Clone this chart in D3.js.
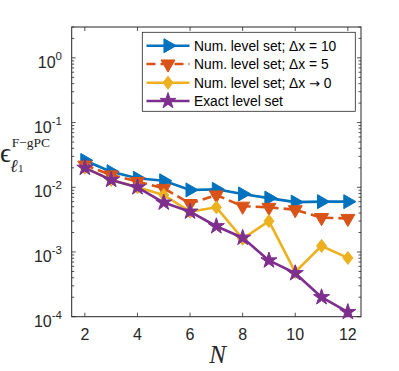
<!DOCTYPE html>
<html>
<head>
<meta charset="utf-8">
<script src="https://cdn.jsdelivr.net/npm/d3@7"></script>
<style>
  body { margin: 0; background: #fff; }
  svg { display: block; }
</style>
</head>
<body>
<div id="chart"></div>
<script>
// values
let N = [2, 3, 4, 5, 6, 7, 8, 9, 10, 11, 12];
let dx10 = [0.026, 0.0174, 0.0138, 0.0126, 0.0091, 0.0093, 0.0079, 0.0068, 0.0059, 0.006, 0.006];
let dx5 = [0.022, 0.0155, 0.0123, 0.0096, 0.0056, 0.0076, 0.0051, 0.0049, 0.0045, 0.0034, 0.0033];
let dx0 = [0.020, 0.013, 0.010, 0.0076, 0.0042, 0.0049, 0.0016, 0.0030, 0.00049, 0.00124, 0.00081];
let exact = [0.020, 0.013, 0.010, 0.0058, 0.0042, 0.0025, 0.00166, 0.00074, 0.00047, 0.0002, 0.000118];
let xTicks = [2, 4, 6, 8, 10, 12];
let yExp = [-4, -3, -2, -1, 0];
let labels = ["Num. level set; \u0394x = 10", "Num. level set; \u0394x = 5", "Num. level set; \u0394x \u2192 0", "Exact level set"];

let series = [
    { name: labels[0], values: dx10, color: "#0072BD", dash: null, marker: "right" },
    { name: labels[1], values: dx5, color: "#D95319", dash: "9,5", marker: "down" },
    { name: labels[2], values: dx0, color: "#EDB120", dash: null, marker: "diamond" },
    { name: labels[3], values: exact, color: "#7E2F8E", dash: null, marker: "star" }
];

let width = 399, height = 371;
let box = { left: 71.7, right: 361, top: 27, bottom: 316.7 };
let axisColor = "#262626";

let x = d3.scaleLinear().domain([1.5, 12.5]).range([box.left, box.right]);
let y = d3.scaleLog().domain([1e-4, 3]).range([box.bottom, box.top]);

let svg = d3.select("#chart").append("svg")
    .attr("width", width)
    .attr("height", height)
    .attr("viewBox", [0, 0, width, height]);

function markerPath(type) {
    switch (type) {
        case "right": return { d: d3.symbol(d3.symbolTriangle, 85)(), rot: 90 };
        case "down": return { d: d3.symbol(d3.symbolTriangle, 85)(), rot: 180 };
        case "diamond": return { d: "M0,-6.5L5,0L0,6.5L-5,0Z", rot: 0 };
        case "star": return { d: d3.symbol(d3.symbolStar, 80)(), rot: 0 };
    }
}

// axes box
svg.append("rect")
    .attr("x", box.left).attr("y", box.top)
    .attr("width", box.right - box.left).attr("height", box.bottom - box.top)
    .attr("fill", "#fff").attr("stroke", axisColor).attr("stroke-width", 1);

let tl = 4;
let ticks = svg.append("g").attr("stroke", axisColor).attr("stroke-width", 0.8);

// x ticks, inside on bottom and top
xTicks.forEach(t => {
    ticks.append("line").attr("x1", x(t)).attr("x2", x(t)).attr("y1", box.bottom).attr("y2", box.bottom - tl);
    ticks.append("line").attr("x1", x(t)).attr("x2", x(t)).attr("y1", box.top).attr("y2", box.top + tl);
});

// y ticks (major + minor), inside on left and right
let yTickVals = [];
for (let e = -4; e <= 0; e++) {
    for (let m = 1; m <= 9; m++) {
        let v = m * Math.pow(10, e);
        if (v <= 3) yTickVals.push({ v: v, major: m === 1 });
    }
}
yTickVals.forEach(t => {
    let len = t.major ? tl : 2.5;
    ticks.append("line").attr("x1", box.left).attr("x2", box.left + len).attr("y1", y(t.v)).attr("y2", y(t.v));
    ticks.append("line").attr("x1", box.right).attr("x2", box.right - len).attr("y1", y(t.v)).attr("y2", y(t.v));
});

// tick labels
let font = "'Liberation Sans', Arial, Helvetica, sans-serif";
svg.append("g")
    .attr("font-family", font).attr("font-size", 16).attr("fill", axisColor)
    .attr("text-anchor", "middle")
    .selectAll("text").data(xTicks).join("text")
    .attr("x", d => x(d)).attr("y", box.bottom + 23)
    .text(d => d);

let yl = svg.append("g")
    .attr("font-family", font).attr("fill", axisColor)
    .attr("text-anchor", "end")
    .selectAll("text").data(yExp).join("text")
    .attr("x", 62).attr("y", d => y(Math.pow(10, d)) + 10)
    .attr("font-size", 16);
yl.append("tspan").text("10");
yl.append("tspan").attr("dy", -8).attr("font-size", 11.5).text(d => d < 0 ? "-" + (-d) : d);

// axis labels
svg.append("text")
    .attr("x", 217.5).attr("y", 363)
    .attr("text-anchor", "middle")
    .attr("font-family", "'Liberation Serif', 'DejaVu Serif', serif")
    .attr("font-style", "italic").attr("font-size", 25)
    .attr("fill", axisColor)
    .text("N");

let ylab = svg.append("g")
    .attr("font-family", "'Liberation Serif', 'DejaVu Serif', serif")
    .attr("fill", axisColor);
ylab.append("text").attr("x", 0).attr("y", 162).attr("font-size", 27).text("\u03F5");
ylab.append("text").attr("x", 10).attr("y", 171.7).attr("font-size", 18).attr("font-style", "italic").text("\u2113");
ylab.append("text").attr("x", 18).attr("y", 171.7).attr("font-size", 11).text("1");
ylab.append("text").attr("x", 11.7).attr("y", 146.7).attr("font-size", 13.5).text("F\u2212gPC");

// lines
let line = d3.line()
    .x((d, i) => x(N[i]))
    .y(d => y(d));

let plot = svg.append("g");
series.forEach(s => {
    plot.append("path")
        .datum(s.values)
        .attr("fill", "none")
        .attr("stroke", s.color)
        .attr("stroke-width", 2.6)
        .attr("stroke-linejoin", "round")
        .attr("stroke-dasharray", s.dash)
        .attr("d", line);
    let m = markerPath(s.marker);
    plot.append("g")
        .selectAll("path")
        .data(s.values)
        .join("path")
        .attr("transform", (d, i) => `translate(${x(N[i])},${y(d)}) rotate(${m.rot})`)
        .attr("d", m.d)
        .attr("fill", s.color)
        .attr("stroke", s.color)
        .attr("stroke-width", 1);
});

// legend
let lg = { x: 142.3, y: 32.3, w: 213, h: 79 };
let legend = svg.append("g");
legend.append("rect")
    .attr("x", lg.x).attr("y", lg.y).attr("width", lg.w).attr("height", lg.h)
    .attr("fill", "#fff").attr("stroke", axisColor).attr("stroke-width", 0.8);
let rows = [45.7, 64, 82.7, 101];
series.forEach((s, i) => {
    let g = legend.append("g").attr("transform", `translate(0,${rows[i]})`);
    g.append("line")
        .attr("x1", 146.5).attr("x2", 189.5)
        .attr("stroke", s.color).attr("stroke-width", 2.6)
        .attr("stroke-dasharray", s.dash);
    let m = markerPath(s.marker);
    g.append("path")
        .attr("transform", `translate(168,0) rotate(${m.rot})`)
        .attr("d", m.d)
        .attr("fill", s.color).attr("stroke", s.color).attr("stroke-width", 1);
    let t = g.append("text")
        .attr("x", 194).attr("y", 5)
        .attr("font-family", font).attr("font-size", 13.8)
        .attr("fill", "#000");
    let parts = s.name.split("\u2192");
    t.append("tspan").text(parts[0]);
    if (parts.length > 1) {
        t.append("tspan").attr("font-family", "'DejaVu Sans', sans-serif").attr("font-size", 13).text("\u2192");
        t.append("tspan").text(parts[1]);
    }
});
</script>
</body>
</html>
